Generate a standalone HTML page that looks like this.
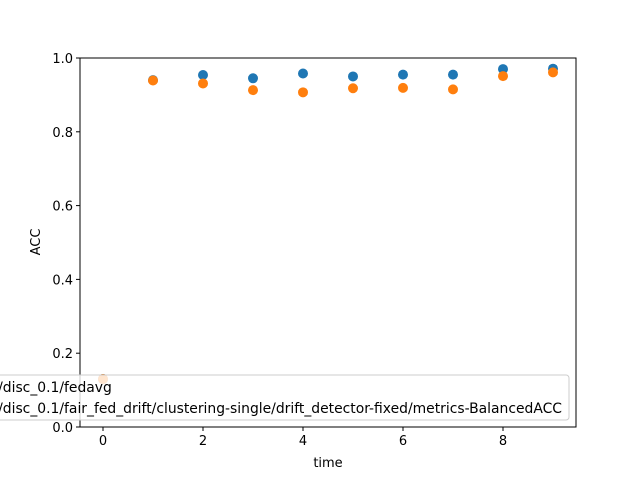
<!DOCTYPE html>
<html><head><meta charset="utf-8"><style>body{margin:0;background:#fff}svg{display:block;font-family:"DejaVu Sans","Liberation Sans",sans-serif}</style></head>
<body>
<svg id="chart" width="640" height="480" xmlns="http://www.w3.org/2000/svg"></svg>
<script>
const times=[0,1,2,3,4,5,6,7,8,9];
const fedavg=[0.130,0.940,0.954,0.945,0.958,0.950,0.955,0.955,0.970,0.971];
const fairFedDrift=[0.130,0.939,0.931,0.913,0.907,0.918,0.919,0.915,0.951,0.961];
const xTicks=[0,2,4,6,8];
const yTicks=[0.0,0.2,0.4,0.6,0.8,1.0];
const legendLabels=["/disc_0.1/fedavg","/disc_0.1/fair_fed_drift/clustering-single/drift_detector-fixed/metrics-BalancedACC"];
const L=80,R=576,T=58,B=427;
const xs=v=>103+(v-0)*50;
const ys=v=>B-(v)*(B-T);
const svg=document.getElementById('chart');
const NS='http://www.w3.org/2000/svg';
function mk(t,a,p){const e=document.createElementNS(NS,t);for(const k in a)e.setAttribute(k,a[k]);(p||svg).appendChild(e);return e;}
const frame=mk('rect',{x:L,y:T,width:R-L,height:B-T,fill:'none',stroke:'#000','stroke-width':1});


xTicks.forEach(v=>{const x=xs(v);
 const l=mk('line',{x1:x,x2:x,y1:B,y2:B+4,stroke:'#000'});
 
 
 const t=mk('text',{x:x,y:B+18,'text-anchor':'middle','font-size':13});t.textContent=v;
 
 });
yTicks.forEach(v=>{const y=ys(v);
 const l=mk('line',{x1:L-4,x2:L,y1:y,y2:y,stroke:'#000'});
 
 
 const t=mk('text',{x:L-7,y:y+5,'text-anchor':'end','font-size':13});t.textContent=v.toFixed(1);
 
 });
const xt=mk('text',{x:328,y:467,'text-anchor':'middle','font-size':13});xt.textContent='time';


const yt=mk('text',{x:40,y:242,'text-anchor':'middle','font-size':13,transform:'rotate(-90 40 242)'});yt.textContent='ACC';


times.forEach((t,i)=>{const c=mk('circle',{cx:xs(t),cy:ys(fedavg[i]),r:5,fill:'#1f77b4'});
 
 });
times.forEach((t,i)=>{const c=mk('circle',{cx:xs(t),cy:ys(fairFedDrift[i]),r:5,fill:'#ff7f0e'});
 
 });
const lg=mk('rect',{x:-40,y:375,width:609,height:45,rx:3,fill:'#fff','fill-opacity':0.8,stroke:'#ccc'});


const texts=legendLabels.map((s,i)=>{const t=mk('text',{x:0,y:392+i*21,'font-size':13.9});t.textContent=s;
 
 return t;});
const w=texts[1].getComputedTextLength();
const sx=562-w;
texts.forEach(t=>t.setAttribute('x',sx));
</script>
</body></html>
